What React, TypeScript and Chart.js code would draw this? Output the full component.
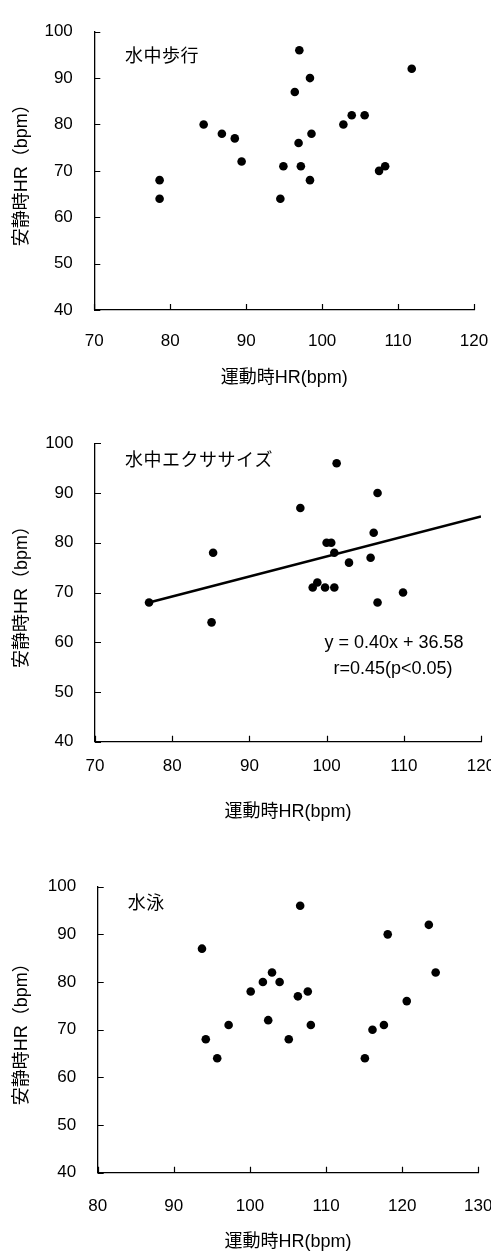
import React, { useEffect, useRef } from "react";
import { Chart, registerables } from "chart.js";

Chart.register(...registerables);

// ---- Data ----
const yTickValues = [40, 50, 60, 70, 80, 90, 100];

// 水中歩行
const walkLabel = "水中歩行";
const walkExerciseHR = [97, 111.8, 98.4, 96.4, 84.4, 102.8, 103.9, 105.6, 86.8, 88.5, 98.6, 96.9, 89.4, 94.9, 97.2, 107.5, 108.3, 78.6, 78.6, 98.4, 94.5];
const walkRestHR = [96, 92, 90, 87, 80, 80, 82, 82, 78, 77, 78, 76, 72, 71, 71, 70, 71, 68, 64, 68, 64];

// 水中エクササイズ
const exLabel = "水中エクササイズ";
const exExerciseHR = [101.3, 106.6, 96.6, 106.1, 100.0, 100.6, 101.0, 85.3, 102.9, 105.7, 98.8, 98.2, 99.8, 101.0, 109.9, 106.6, 77.0, 85.1];
const exRestHR = [96, 90, 87, 82, 80, 80, 78, 78, 76, 77, 72, 71, 71, 71, 70, 68, 68, 64];
const exFitX = [77, 120];
const exFitY = [68, 85.3];
const exEquation = "y = 0.40x + 36.58";
const exCorrelation = "r=0.45(p<0.05)";

// 水泳
const swimLabel = "水泳";
const swimExerciseHR = [106.6, 123.5, 118.1, 93.7, 124.4, 102.9, 101.7, 103.9, 100.1, 107.6, 106.3, 120.6, 102.4, 97.2, 108.0, 117.6, 116.1, 94.2, 105.1, 95.7, 115.1];
const swimRestHR = [96, 92, 90, 87, 82, 82, 80, 80, 78, 78, 77, 76, 72, 71, 71, 71, 70, 68, 68, 64, 64];

const xTitle = "運動時HR(bpm)";
const yTitle = "安静時HR（bpm）";

const FONT = "'Liberation Sans', 'Noto Sans CJK JP', Arial, sans-serif";
const CJK_FONT = "'Noto Sans CJK JP', 'Liberation Sans', sans-serif";
const CANVAS_W = 520;

type PanelProps = {
  canvasTop: number;
  canvasHeight: number;
  plotLeft: number;
  plotRight: number;
  plotTop: number;
  plotBottom: number;
  tickCenter: number;
  titleCenter: number;
  xMin: number;
  xMax: number;
  xs: number[];
  ys: number[];
  label: string;
  labelDx: number;
  labelDy: number;
  fitX?: number[];
  fitY?: number[];
  notes?: { text: string; dx: number; dy: number }[];
};

const innerTicksPlugin = {
  id: "innerTicks",
  afterDraw(chart: any) {
    const ctx = chart.ctx;
    const xs = chart.scales.x;
    const ys = chart.scales.y;
    const area = chart.chartArea;
    ctx.save();
    ctx.strokeStyle = "#000";
    ctx.lineWidth = 1.2;
    ctx.beginPath();
    xs.ticks.forEach((t: any) => {
      const px = Math.round(xs.getPixelForValue(t.value)) + 0.5;
      ctx.moveTo(px, area.bottom);
      ctx.lineTo(px, area.bottom - 6);
    });
    ys.ticks.forEach((t: any) => {
      const py = Math.round(ys.getPixelForValue(t.value)) + 0.5;
      ctx.moveTo(area.left, py);
      ctx.lineTo(area.left + 6, py);
    });
    ctx.stroke();
    ctx.restore();
  },
};

const textPlugin = {
  id: "panelText",
  afterDraw(chart: any, _args: any, opts: any) {
    const ctx = chart.ctx;
    const area = chart.chartArea;
    ctx.save();
    ctx.fillStyle = "#000";
    ctx.textBaseline = "middle";
    ctx.textAlign = "left";
    ctx.font = `18px ${CJK_FONT}`;
    try { (ctx as any).letterSpacing = "0.5px"; } catch (e) {}
    ctx.fillText(opts.label, area.left + opts.labelDx, area.top + opts.labelDy);
    try { (ctx as any).letterSpacing = "0px"; } catch (e) {}
    ctx.textAlign = "center";
    ctx.font = `18px ${FONT}`;
    (opts.notes || []).forEach((n: any) => {
      ctx.fillText(n.text, area.left + n.dx, area.top + n.dy);
    });
    ctx.restore();
  },
};

function Panel(p: PanelProps) {
  const ref = useRef<HTMLCanvasElement | null>(null);
  useEffect(() => {
    if (!ref.current) return;
    const points = p.xs.map((x, i) => ({ x, y: p.ys[i] }));
    const datasets: any[] = [
      {
        data: points,
        backgroundColor: "#000",
        borderColor: "#000",
        borderWidth: 0,
        pointRadius: 4.3,
        pointHoverRadius: 4.3,
      },
    ];
    if (p.fitX && p.fitY) {
      datasets.push({
        data: p.fitX.map((x, i) => ({ x, y: p.fitY![i] })),
        showLine: true,
        borderColor: "#000",
        borderWidth: 2.5,
        pointRadius: 0,
        fill: false,
      });
    }
    const xScaleHeight = p.canvasHeight - (p.plotBottom - p.canvasTop);
    const tickFontSize = 17;
    const titleFontSize = 18;
    const chart = new Chart(ref.current, {
      type: "scatter",
      data: { datasets },
      plugins: [innerTicksPlugin, textPlugin],
      options: {
        animation: false,
        responsive: false,
        devicePixelRatio: 1,
        layout: {
          padding: {
            left: 0,
            top: p.plotTop - p.canvasTop,
            right: CANVAS_W - p.plotRight,
            bottom: 0,
          },
        },
        plugins: {
          legend: { display: false },
          tooltip: { enabled: false },
          panelText: { label: p.label, labelDx: p.labelDx, labelDy: p.labelDy, notes: p.notes || [] },
        } as any,
        scales: {
          x: {
            type: "linear",
            min: p.xMin,
            max: p.xMax,
            grid: { display: false, drawTicks: false },
            border: { display: true, color: "#000", width: 1.3 },
            ticks: {
              stepSize: 10,
              padding: p.tickCenter - p.plotBottom - (tickFontSize * 1.2) / 2,
              color: "#000",
              font: { size: tickFontSize, family: FONT },
              maxRotation: 0,
              autoSkip: false,
            },
            title: {
              display: true,
              text: xTitle,
              color: "#000",
              font: { size: titleFontSize, family: FONT },
              padding: {
                top: 0,
                bottom: p.canvasTop + p.canvasHeight - p.titleCenter - (titleFontSize * 1.2) / 2,
              },
            },
            afterFit(scale: any) {
              scale.height = xScaleHeight;
            },
          },
          y: {
            type: "linear",
            min: 40,
            max: 100,
            afterBuildTicks(scale: any) {
              scale.ticks = yTickValues.map((v) => ({ value: v }));
            },
            grid: { display: false, drawTicks: false },
            border: { display: true, color: "#000", width: 1.3 },
            ticks: {
              stepSize: 10,
              padding: 21.5,
              color: "#000",
              font: { size: tickFontSize, family: FONT },
            },
            title: {
              display: true,
              text: yTitle,
              color: "#000",
              font: { size: titleFontSize, family: FONT },
              padding: { top: 22.5 - (titleFontSize * 1.2) / 2, bottom: 0 },
            },
            afterFit(scale: any) {
              scale.width = p.plotLeft;
            },
          },
        },
      } as any,
    });
    return () => chart.destroy();
  }, []);
  return (
    <canvas
      ref={ref}
      width={CANVAS_W}
      height={p.canvasHeight}
      style={{ position: "absolute", left: 0, top: p.canvasTop, width: CANVAS_W, height: p.canvasHeight }}
    />
  );
}

export default function App() {
  return (
    <div
      style={{
        position: "absolute",
        left: 0,
        top: 0,
        width: 491,
        height: 1253,
        overflow: "hidden",
        background: "#fff",
      }}
    >
      <Panel
        canvasTop={0}
        canvasHeight={400}
        plotLeft={94.3}
        plotRight={474}
        plotTop={15.7}
        plotBottom={310}
        tickCenter={341.7}
        titleCenter={378}
        xMin={70}
        xMax={120}
        xs={walkExerciseHR}
        ys={walkRestHR}
        label={walkLabel}
        labelDx={30.7}
        labelDy={23.6}
      />
      <Panel
        canvasTop={400}
        canvasHeight={430}
        plotLeft={95}
        plotRight={481}
        plotTop={443.3}
        plotBottom={741.7}
        tickCenter={766.7}
        titleCenter={811.7}
        xMin={70}
        xMax={120}
        xs={exExerciseHR}
        ys={exRestHR}
        label={exLabel}
        labelDx={30}
        labelDy={15.7}
        fitX={exFitX}
        fitY={exFitY}
        notes={[
          { text: exEquation, dx: 299, dy: 199.7 },
          { text: exCorrelation, dx: 298, dy: 225.7 },
        ]}
      />
      <Panel
        canvasTop={840}
        canvasHeight={413}
        plotLeft={97.7}
        plotRight={478.3}
        plotTop={886.7}
        plotBottom={1172.7}
        tickCenter={1206.7}
        titleCenter={1241.7}
        xMin={80}
        xMax={130}
        xs={swimExerciseHR}
        ys={swimRestHR}
        label={swimLabel}
        labelDx={30}
        labelDy={15.8}
      />
    </div>
  );
}
